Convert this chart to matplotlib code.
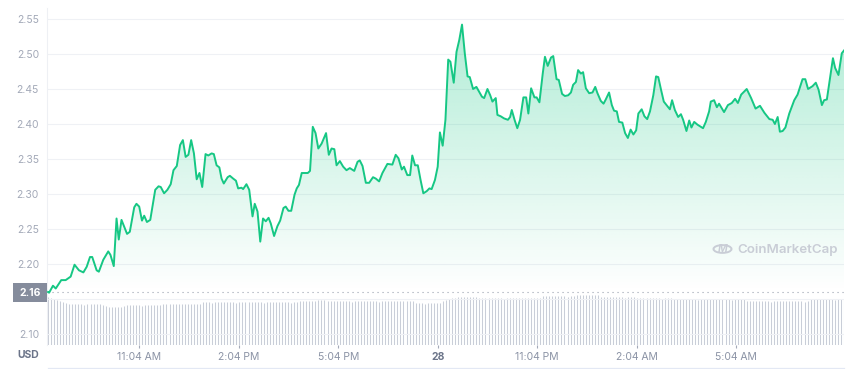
import numpy as np
import matplotlib
matplotlib.use("Agg")
import matplotlib.pyplot as plt
from matplotlib.patches import Rectangle, Circle, Polygon
from matplotlib.lines import Line2D

plt.rcParams['font.family'] = ['Inter', 'DejaVu Sans']

# ---- data: minutes since start of 24h window, price in USD ----
time_min = [0, 2, 9, 14, 24, 32, 41, 48, 56, 64, 70, 76, 80, 88, 92, 100, 109, 113, 119, 124,
            128, 133, 143, 148, 156, 160, 165, 170, 174, 179, 185, 194, 200, 204, 210, 216, 222,
            227, 233, 239, 244, 249, 254, 259, 264, 269, 274, 279, 285, 290, 296, 300, 305, 310,
            314, 318, 325, 329, 335, 340, 344, 350, 353, 359, 364, 370, 374, 379, 384, 389, 394,
            399, 403, 409, 415, 420, 426, 430, 435, 440, 446, 450, 454, 459, 464, 470, 474, 479,
            484, 489, 495, 503, 508, 513, 518, 522, 528, 534, 540, 546, 554, 560, 564, 569, 575,
            581, 588, 593, 599, 605, 614, 623, 629, 634, 640, 644, 650, 655, 659, 664, 669, 674,
            679, 685, 690, 694, 700, 705, 709, 714, 719, 724, 728, 734, 739, 744, 749, 754, 759,
            763, 769, 775, 785, 789, 795, 800, 804, 810, 813, 819, 825, 832, 836, 839, 844, 849,
            854, 860, 865, 869, 874, 880, 884, 889, 895, 899, 904, 910, 914, 920, 924, 930, 935,
            941, 946, 950, 955, 959, 964, 968, 973, 979, 985, 990, 994, 1000, 1005, 1009, 1015,
            1020, 1024, 1029, 1033, 1039, 1044, 1049, 1054, 1059, 1064, 1068, 1074, 1079, 1084,
            1089, 1095, 1100, 1104, 1109, 1114, 1120, 1125, 1129, 1134, 1140, 1145, 1149, 1155,
            1160, 1164, 1169, 1175, 1181, 1185, 1190, 1196, 1199, 1205, 1210, 1214, 1223, 1230,
            1237, 1243, 1248, 1254, 1264, 1272, 1280, 1288, 1296, 1305, 1311, 1315, 1320, 1324,
            1329, 1334, 1341, 1350, 1356, 1365, 1370, 1375, 1383, 1389, 1394, 1400, 1404, 1409,
            1420, 1424, 1430, 1436, 1440]
price = [2.160, 2.159, 2.169, 2.165, 2.177, 2.177, 2.182, 2.199, 2.191, 2.188, 2.196, 2.210, 2.210,
         2.191, 2.189, 2.206, 2.218, 2.213, 2.197, 2.265, 2.235, 2.263, 2.243, 2.246, 2.281, 2.286,
         2.282, 2.262, 2.269, 2.260, 2.263, 2.306, 2.311, 2.310, 2.301, 2.306, 2.314, 2.334, 2.340,
         2.370, 2.377, 2.353, 2.356, 2.377, 2.358, 2.321, 2.330, 2.310, 2.357, 2.355, 2.358, 2.357,
         2.341, 2.338, 2.322, 2.315, 2.324, 2.326, 2.322, 2.319, 2.308, 2.309, 2.307, 2.314, 2.306,
         2.268, 2.286, 2.275, 2.232, 2.265, 2.261, 2.266, 2.258, 2.240, 2.254, 2.262, 2.280, 2.282,
         2.276, 2.276, 2.299, 2.308, 2.313, 2.330, 2.330, 2.330, 2.333, 2.396, 2.387, 2.365, 2.372,
         2.387, 2.356, 2.365, 2.364, 2.341, 2.347, 2.339, 2.334, 2.337, 2.333, 2.346, 2.348, 2.340,
         2.316, 2.316, 2.324, 2.322, 2.318, 2.330, 2.343, 2.342, 2.356, 2.351, 2.335, 2.339, 2.327,
         2.327, 2.355, 2.341, 2.341, 2.320, 2.301, 2.304, 2.308, 2.307, 2.320, 2.339, 2.388, 2.369,
         2.406, 2.492, 2.489, 2.459, 2.503, 2.520, 2.542, 2.501, 2.468, 2.467, 2.450, 2.453, 2.439,
         2.437, 2.450, 2.441, 2.432, 2.437, 2.413, 2.411, 2.408, 2.406, 2.410, 2.420, 2.406, 2.394,
         2.406, 2.438, 2.438, 2.415, 2.451, 2.438, 2.438, 2.431, 2.472, 2.496, 2.483, 2.495, 2.497,
         2.464, 2.463, 2.443, 2.440, 2.441, 2.445, 2.456, 2.460, 2.477, 2.472, 2.474, 2.451, 2.444,
         2.445, 2.453, 2.444, 2.433, 2.429, 2.435, 2.445, 2.427, 2.419, 2.418, 2.403, 2.402, 2.387,
         2.380, 2.392, 2.385, 2.391, 2.415, 2.421, 2.411, 2.407, 2.418, 2.441, 2.468, 2.467, 2.449,
         2.432, 2.426, 2.421, 2.434, 2.420, 2.410, 2.414, 2.406, 2.390, 2.405, 2.395, 2.403, 2.399,
         2.396, 2.394, 2.403, 2.418, 2.432, 2.434, 2.424, 2.429, 2.417, 2.427, 2.430, 2.436, 2.430,
         2.442, 2.450, 2.437, 2.422, 2.426, 2.416, 2.407, 2.406, 2.400, 2.410, 2.389, 2.390, 2.395,
         2.415, 2.434, 2.442, 2.464, 2.464, 2.450, 2.454, 2.459, 2.449, 2.427, 2.434, 2.435, 2.494,
         2.480, 2.470, 2.501, 2.505]

# volume (arbitrary units, millions) per bar, evenly spaced over the window
volume = [96, 95, 93, 90, 88, 86, 84, 82, 82, 83, 82, 82, 81, 82, 82, 83, 82, 82, 81,
          78, 77, 76, 76, 76, 77, 78, 80, 80, 81, 80, 80, 79, 80, 80, 81, 80, 80, 80,
          82, 82, 83, 82, 82, 82, 83, 82, 82, 82, 83, 82, 82, 86, 86, 86, 85, 86, 86,
          86, 87, 86, 86, 86, 85, 86, 86, 86, 87, 86, 86, 86, 86, 85, 86, 86, 86, 87,
          86, 86, 86, 86, 85, 86, 86, 88, 88, 89, 88, 88, 88, 90, 90, 90, 88, 88, 88,
          89, 88, 88, 88, 88, 87, 88, 88, 88, 89, 88, 88, 88, 88, 87, 88, 88, 88, 88,
          89, 88, 88, 88, 88, 88, 88, 84, 84, 84, 83, 84, 84, 84, 84, 84, 88, 90, 92,
          94, 95, 96, 96, 97, 96, 96, 96, 96, 94, 94, 94, 95, 94, 94, 94, 94, 93, 94,
          94, 94, 94, 94, 94, 95, 94, 94, 94, 94, 94, 98, 98, 98, 99, 98, 98, 98, 98,
          97, 98, 98, 100, 100, 101, 100, 100, 100, 100, 100, 96, 96, 96, 97, 96, 96,
          96, 96, 95, 96, 96, 96, 94, 94, 94, 95, 94, 94, 94, 94, 93, 94, 94, 94, 92,
          92, 92, 93, 92, 92, 92, 92, 91, 92, 92, 92, 92, 92, 93, 92, 92, 92, 92, 91,
          92, 92, 92, 92, 88, 88, 88, 89, 88, 88, 88, 88, 87, 88, 88, 88, 88, 88, 89,
          88, 88, 88, 88, 87, 88, 92, 92, 92, 93, 92, 92, 92, 92, 91, 92, 92, 92]

ref_price = 2.16
y_ticks = [2.10, 2.15, 2.20, 2.25, 2.30, 2.35, 2.40, 2.45, 2.50, 2.55]
x_tick_pos = [165, 345, 525, 705, 885, 1065, 1245]
x_tick_labels = ['11:04 AM', '2:04 PM', '5:04 PM', '28', '11:04 PM', '2:04 AM', '5:04 AM']

GREEN = '#16c784'
W, H = 856, 369
fig = plt.figure(figsize=(W / 100, H / 100), dpi=100)
fig.patch.set_facecolor('white')

L, R, T, B = 47, 844, 8, 345
rect = [L / W, (H - B) / H, (R - L) / W, (B - T) / H]

# volume axis (behind)
axv = fig.add_axes(rect)
axv.set_xlim(-1.8, 1440)
axv.set_ylim(0, 674)
vx = np.linspace(0, 1440, len(volume))
axv.vlines(vx, 0, volume, colors='#c9ced8', linewidth=0.75)
axv.axis('off')

# price axis (front)
ax = fig.add_axes(rect)
ax.set_facecolor('none')
ax.set_xlim(-1.8, 1440)
ax.set_ylim(2.0843, 2.5657)
for s in ['top', 'right', 'bottom']:
    ax.spines[s].set_visible(False)
ax.spines['left'].set_color('#eef0f4')
ax.spines['left'].set_linewidth(0.8)

for yv in y_ticks:
    ax.axhline(yv, color='#eff1f5', lw=0.8, zorder=0)

ax.set_yticks(y_ticks)
# the 2.15 label sits under the reference-price box, so it is not shown
ax.set_yticklabels(['' if abs(v - 2.15) < 1e-9 else f'{v:.2f}' for v in y_ticks])
ax.tick_params(axis='y', length=0, pad=5.8, labelsize=7.5, labelcolor='#a3a9b8')
ax.set_xticks(x_tick_pos)
ax.set_xticklabels(x_tick_labels)
ax.tick_params(axis='x', length=2.2, width=0.8, color='#a3a9b8', pad=2.6,
               labelsize=7.5, labelcolor='#8b93a5')
for lbl in ax.get_xticklabels():
    if lbl.get_text() == '28':
        lbl.set_fontweight('bold')
        lbl.set_color('#6b7489')

t = np.array(time_min, dtype=float)
p = np.array(price)

# gradient fill under the line, down to reference price
verts = [(t[0], ref_price)] + list(zip(t, p)) + [(t[-1], ref_price)]
poly = Polygon(verts, closed=True, facecolor='none', edgecolor='none')
ax.add_patch(poly)
grad = np.zeros((200, 2, 4))
c = matplotlib.colors.to_rgb(GREEN)
grad[:, :, 0], grad[:, :, 1], grad[:, :, 2] = c
alphas = np.linspace(0.0, 0.34, 200)
grad[:, :, 3] = alphas[:, None]
im = ax.imshow(grad, extent=[t[0], t[-1], ref_price, 2.55], origin='lower',
               aspect='auto', zorder=1, interpolation='bilinear')
im.set_clip_path(poly)

ax.plot(t, p, color=GREEN, lw=1.4, zorder=3, solid_joinstyle='round')
ax.axhline(ref_price, color='#9ba2b0', lw=0.8, ls=(0, (1, 3.5)), zorder=2)

# reference price box
fig.patches.append(Rectangle((13 / W, (H - 302) / H), 34 / W, 19 / H,
                             transform=fig.transFigure, facecolor='#858c9c',
                             edgecolor='none', zorder=5))
fig.text(30 / W, (H - 292.5) / H, f'{ref_price:.2f}', color='white', fontsize=7.5,
         fontweight='bold', ha='center', va='center', zorder=6)

# USD label
fig.text(28 / W, (H - 355.5) / H, 'USD', color='#6b7489', fontsize=7.5,
         fontweight='bold', ha='center', va='center')

# bottom line
fig.lines.append(Line2D([48 / W, 844 / W], [(H - 367.5) / H] * 2, transform=fig.transFigure,
                        color='#e3e8f4', lw=0.9))

# watermark
fig.patches.append(Circle((722.5 / W, (H - 249) / H), 9 / W, transform=fig.transFigure,
                          facecolor='none', edgecolor='#c9cdd6', lw=1.4))
fig.text(722.5 / W, (H - 249.5) / H, 'M', color='#c9cdd6', fontsize=7.5, fontweight='bold',
         ha='center', va='center', style='italic')
fig.text(737 / W, (H - 249.5) / H, 'CoinMarketCap', color='#c9cdd6', fontsize=9.6,
         fontweight='semibold', ha='left', va='center')

fig.savefig('out.png', dpi=100, facecolor='white')
